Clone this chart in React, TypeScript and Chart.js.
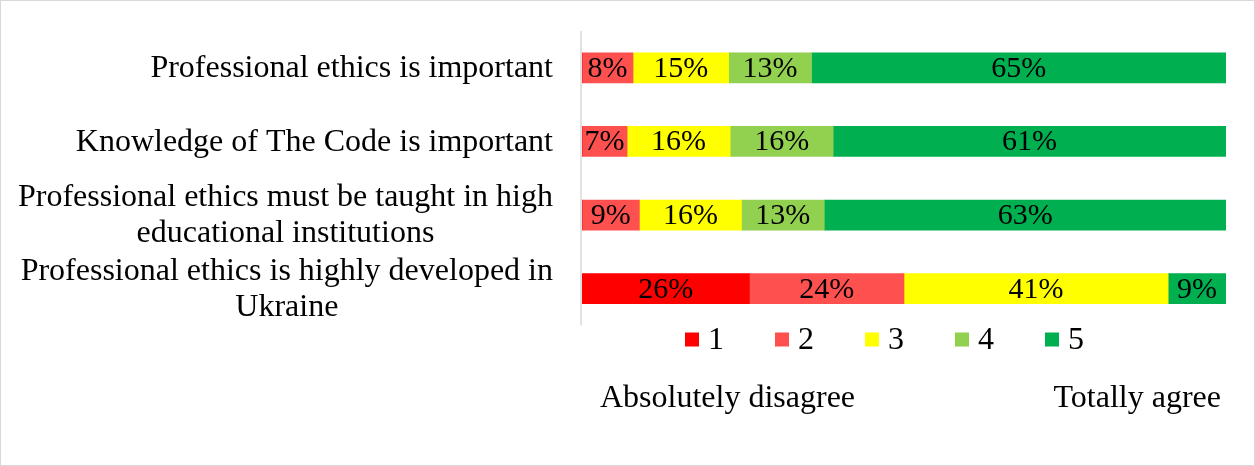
import React, { useEffect, useRef } from "react";
import { Chart, registerables } from "chart.js";

Chart.register(...registerables);

const categoryLines: string[][] = [
  ["Professional ethics is important"],
  ["Knowledge of The Code is important"],
  ["Professional ethics must be taught in high", "educational institutions"],
  ["Professional ethics is highly developed in", "Ukraine"],
];
const levelNames = ["1", "2", "3", "4", "5"];
const level1 = [0, 0, 0, 26];
const level2 = [8, 7, 9, 24];
const level3 = [15, 16, 16, 41];
const level4 = [13, 16, 13, 0];
const level5 = [65, 61, 63, 9];
const levelColors = ["#FF0000", "#FF5050", "#FFFF00", "#92D050", "#00B050"];
const leftNote = "Absolutely disagree";
const rightNote = "Totally agree";

const FONT = "32px 'Liberation Serif', 'Times New Roman', serif";
const LABEL_FONT = "30px 'Liberation Serif', 'Times New Roman', serif";

export default function App() {
  const ref = useRef<HTMLCanvasElement | null>(null);

  useEffect(() => {
    document.body.style.margin = "0";
    const series = [level1, level2, level3, level4, level5];
    const totals = categoryLines.map((_, j) => series.reduce((s, arr) => s + arr[j], 0));
    const datasets = series.map((arr, i) => ({
      label: levelNames[i],
      data: arr.map((v, j) => (v / totals[j]) * 100),
      backgroundColor: levelColors[i],
      borderWidth: 0,
      barThickness: 30,
    }));

    const overlay = {
      id: "overlay",
      afterDatasetsDraw(chart: any) {
        const ctx = chart.ctx;
        ctx.save();
        ctx.font = LABEL_FONT;
        ctx.fillStyle = "#000";
        ctx.textAlign = "center";
        ctx.textBaseline = "middle";
        series.forEach((arr, i) => {
          const meta = chart.getDatasetMeta(i);
          meta.data.forEach((bar: any, j: number) => {
            const raw = arr[j];
            if (!raw) return;
            const p = bar.getProps(["x", "y", "base"], true);
            ctx.fillText(raw + "%", (p.x + p.base) / 2, p.y + 1);
          });
        });
        ctx.restore();
      },
      afterDraw(chart: any) {
        const ctx = chart.ctx;
        const area = chart.chartArea;
        const yScale = chart.scales.y;
        ctx.save();
        // outer border
        ctx.strokeStyle = "#d9d9d9";
        ctx.lineWidth = 1;
        ctx.strokeRect(0.5, 0.5, chart.width - 1, chart.height - 1);
        // axis line
        ctx.strokeStyle = "#d9d9d9";
        ctx.lineWidth = 1.5;
        ctx.beginPath();
        ctx.moveTo(area.left - 1, area.top);
        ctx.lineTo(area.left - 1, area.bottom);
        ctx.stroke();
        // category labels
        ctx.font = FONT;
        ctx.fillStyle = "#000";
        ctx.textBaseline = "middle";
        ctx.textAlign = "center";
        const rightEdge = 553;
        const lineH = 36;
        categoryLines.forEach((lines, j) => {
          const cy = yScale.getPixelForValue(j);
          const maxW = Math.max(...lines.map((l) => ctx.measureText(l).width));
          const cx = rightEdge - maxW / 2;
          const startY = cy - ((lines.length - 1) * lineH) / 2;
          lines.forEach((l, k) => ctx.fillText(l, cx, startY + k * lineH + 1));
        });
        // legend
        const legY = area.bottom + 14;
        const legX0 = 685;
        const step = 90;
        levelNames.forEach((name, i) => {
          const x = legX0 + i * step;
          ctx.fillStyle = levelColors[i];
          ctx.fillRect(x, legY - 7, 14, 14);
          ctx.fillStyle = "#000";
          ctx.textAlign = "left";
          ctx.fillText(name, x + 23, legY + 1);
        });
        // notes
        ctx.textAlign = "left";
        ctx.fillText(leftNote, 600, 399);
        ctx.textAlign = "right";
        ctx.fillText(rightNote, 1221, 399);
        ctx.restore();
      },
    };

    const chart = new Chart(ref.current as HTMLCanvasElement, {
      type: "bar",
      data: { labels: categoryLines.map((l) => l.join(" ")), datasets },
      options: {
        indexAxis: "y",
        responsive: false,
        animation: false,
        maintainAspectRatio: false,
        layout: { padding: { left: 582, right: 29, top: 31, bottom: 140.5 } },
        scales: {
          x: { display: false, stacked: true, min: 0, max: 100 },
          y: { display: false, stacked: true },
        },
        plugins: { legend: { display: false }, tooltip: { enabled: false } },
      },
      plugins: [overlay],
    } as any);
    return () => chart.destroy();
  }, []);

  return <canvas ref={ref} width={1255} height={466} style={{ display: "block" }} />;
}
